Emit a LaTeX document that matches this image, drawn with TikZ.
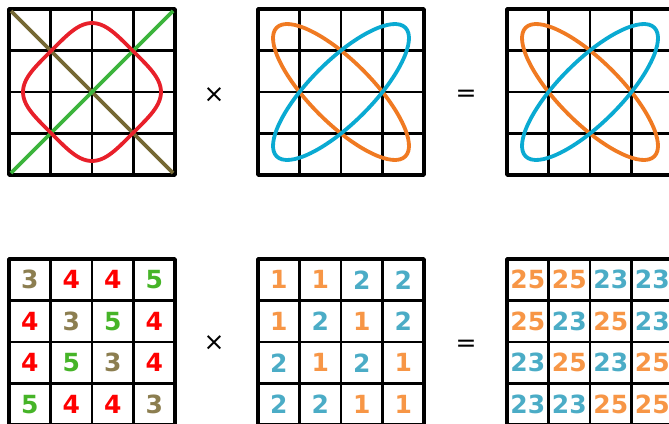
\documentclass[tikz,border=0pt]{standalone}
\usepackage{fontspec}
\setmainfont{DejaVu Sans}
\definecolor{olivedark}{RGB}{117,104,52}
\definecolor{olivenum}{RGB}{140,126,80}
\definecolor{curvered}{RGB}{232,32,42}
\definecolor{numred}{RGB}{255,0,0}
\definecolor{linegreen}{RGB}{60,180,60}
\definecolor{numgreen}{RGB}{70,180,40}
\definecolor{curveorange}{RGB}{240,122,34}
\definecolor{curveblue}{RGB}{10,170,210}
\definecolor{numorange}{RGB}{247,150,70}
\definecolor{numblue}{RGB}{75,172,198}

\begin{document}
\begin{tikzpicture}[
      x=1pt,y=-1pt,
      inner/.style={line width=2.4pt},
      outer/.style={line width=3.8pt,line join=round},
      curve/.style={line width=3.8pt},
      num/.style={font=\bfseries\fontsize{25}{25}\selectfont,inner sep=0pt},
      op/.style={font=\fontsize{25}{25}\selectfont,inner sep=0pt},
      d1/.style={num,text=numorange},
      d2/.style={num,text=numblue},
      d3/.style={num,text=olivenum},
      d4/.style={num,text=numred},
      d5/.style={num,text=numgreen},
      d23/.style={num,text=numblue},
      d25/.style={num,text=numorange}]
    \path[use as bounding box,clip] (0,0) rectangle (669,423);

    % grids
    \foreach \gx/\gy in {9/9,258/9,507/9,9/259,258/259,507/259}{
      \foreach \k in {1,2,3}{
        \draw[inner] (\gx+41.5*\k,\gy) -- (\gx+41.5*\k,\gy+166);
        \draw[inner] (\gx,\gy+41.5*\k) -- (\gx+166,\gy+41.5*\k);
      }
      \draw[outer] (\gx,\gy) rectangle (\gx+166,\gy+166);
    }

    % top row: lines and curves
    \draw[curve,olivedark] (11,11) -- (173,173);
    \draw[curve,linegreen] (11,173) -- (173,11);
    \draw[curve,curvered,rotate around={45:(92,92)}]
      plot[domain=0:360,samples=240]
      ({92+58*sign(cos(\x))*sqrt(abs(cos(\x)))},{92+58*sign(sin(\x))*sqrt(abs(sin(\x)))}) -- cycle;
    \foreach \cx in {341,590}{
      \draw[curve,curveorange] (\cx,92) ellipse [x radius=91,y radius=31,rotate=-45];
      \draw[curve,curveblue] (\cx,92) ellipse [x radius=91,y radius=31,rotate=45];
    }

    % bottom row: numbers
    \foreach \row [count=\r] in {{3,4,4,5},{4,3,5,4},{4,5,3,4},{5,4,4,3}}
      \foreach \v [count=\c] in \row
        \node[d\v] (a-\r-\c) at (9+41.5*\c-20.75,259+41.5*\r-20.75) {\v};
    \foreach \row [count=\r] in {{1,1,2,2},{1,2,1,2},{2,1,2,1},{2,2,1,1}}
      \foreach \v [count=\c] in \row
        \node[d\v] (b-\r-\c) at (258+41.5*\c-20.75,259+41.5*\r-20.75) {\v};
    \foreach \row [count=\r] in {{25,25,23,23},{25,23,25,23},{23,25,23,25},{23,23,25,25}}
      \foreach \v [count=\c] in \row
        \node[d\v] (c-\r-\c) at (507+41.5*\c-20.75,259+41.5*\r-20.75) {\v};

    % operators
    \node[op] (times-top) at (214,95) {×};
    \node[op] (eq-top) at (466,96) {=};
    \node[op] (times-bot) at (214,343) {×};
    \node[op] (eq-bot) at (466,346) {=};
  \end{tikzpicture}
\end{document}
